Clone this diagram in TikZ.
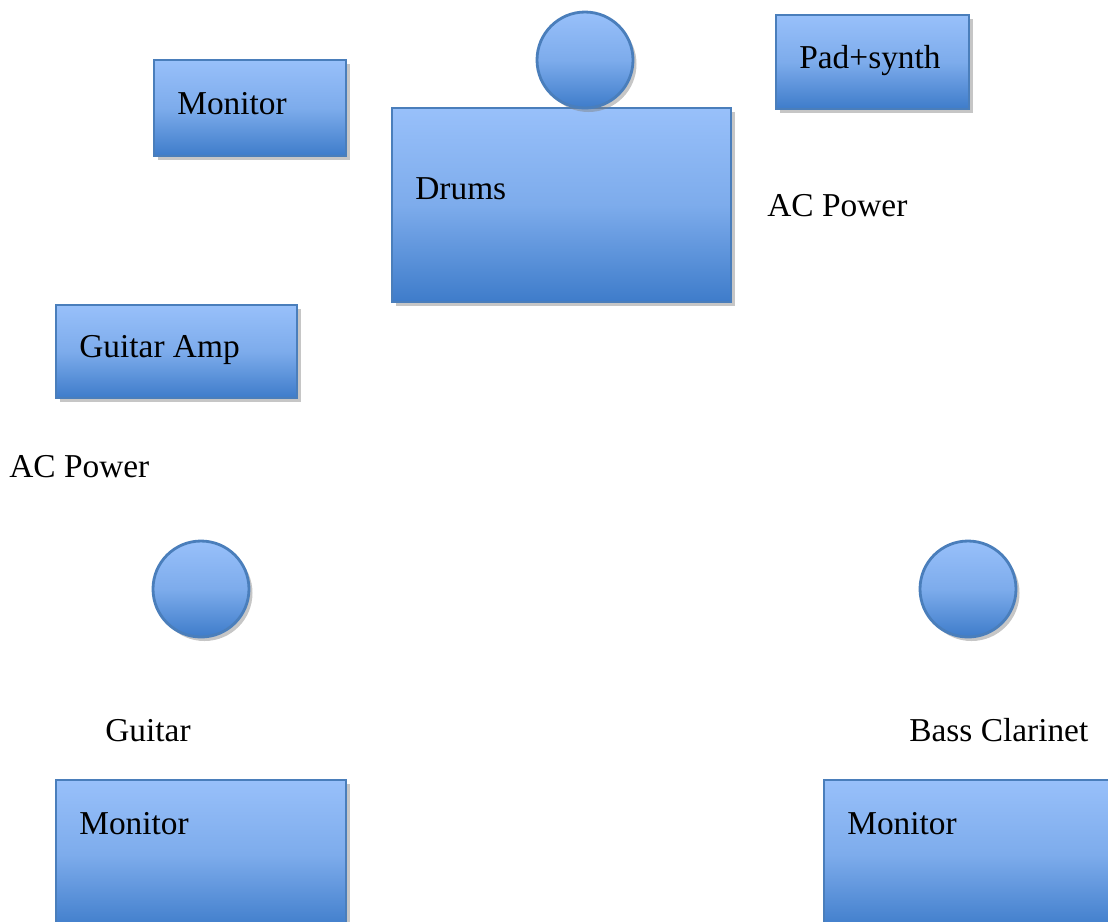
\documentclass[tikz,border=0pt]{standalone}
\usepackage{fontspec}
\setmainfont{Liberation Serif}
\usepackage{tikz}
\usetikzlibrary{shadows}
\definecolor{boxtop}{RGB}{152,192,250}
\definecolor{boxbot}{RGB}{62,124,202}
\definecolor{boxline}{RGB}{74,126,187}
\def\px{0.02cm}

\begin{document}
\begin{tikzpicture}[x=0.02cm,y=-0.02cm]
	\tikzstyle{gear}=[draw=boxline,line width=1.6pt,top color=boxtop,bottom color=boxbot,
		middle color=boxtop!70!boxbot,inner sep=0pt,
		drop shadow={opacity=0.45,shadow xshift=0.07cm,shadow yshift=-0.08cm}]
	\tikzstyle{box}=[gear,rectangle]
	\tikzstyle{player}=[gear,circle,minimum size=96*\px]
	\tikzstyle{tag}=[anchor=base west,inner sep=0pt,font=\fontsize{19}{22}\selectfont]

	\useasboundingbox (0,0) rectangle (1108,921);
	\clip (0,0) rectangle (1108,921);

	% Backline: monitor, drum kit, keys
	\node[box,minimum width=192*\px,minimum height=96*\px] (mon-top) at (250,108) {};
	\node[box,minimum width=339*\px,minimum height=194*\px] (drums) at (561.5,205) {};
	\node[player] (drummer) at (585,60) {};
	\node[box,minimum width=193*\px,minimum height=94*\px] (pad) at (872.5,62) {};
	\node[box,minimum width=241*\px,minimum height=93*\px] (amp) at (176.5,351.5) {};

	% Players up front
	\node[player] (guitarist) at (201,589) {};
	\node[player] (clarinettist) at (968,589) {};

	% Floor monitors
	\node[box,minimum width=290*\px,minimum height=150*\px] (mon-left) at (201,855) {};
	\node[box,minimum width=304*\px,minimum height=150*\px] (mon-right) at (976,855) {};

	% Labels
	\node[tag] (l-mon-top) at (177,114) {Monitor};
	\node[tag] (l-drums) at (415,199) {Drums};
	\node[tag] (l-pad) at (799,68) {Pad+synth};
	\node[tag] (l-ac-right) at (767,216) {AC Power};
	\node[tag] (l-amp) at (79,357) {Guitar Amp};
	\node[tag] (l-ac-left) at (9,477) {AC Power};
	\node[tag] (l-guitar) at (105,741) {Guitar};
	\node[tag] (l-clarinet) at (909,741) {Bass Clarinet};
	\node[tag] (l-mon-left) at (79,834) {Monitor};
	\node[tag] (l-mon-right) at (847,834) {Monitor};
\end{tikzpicture}
\end{document}
